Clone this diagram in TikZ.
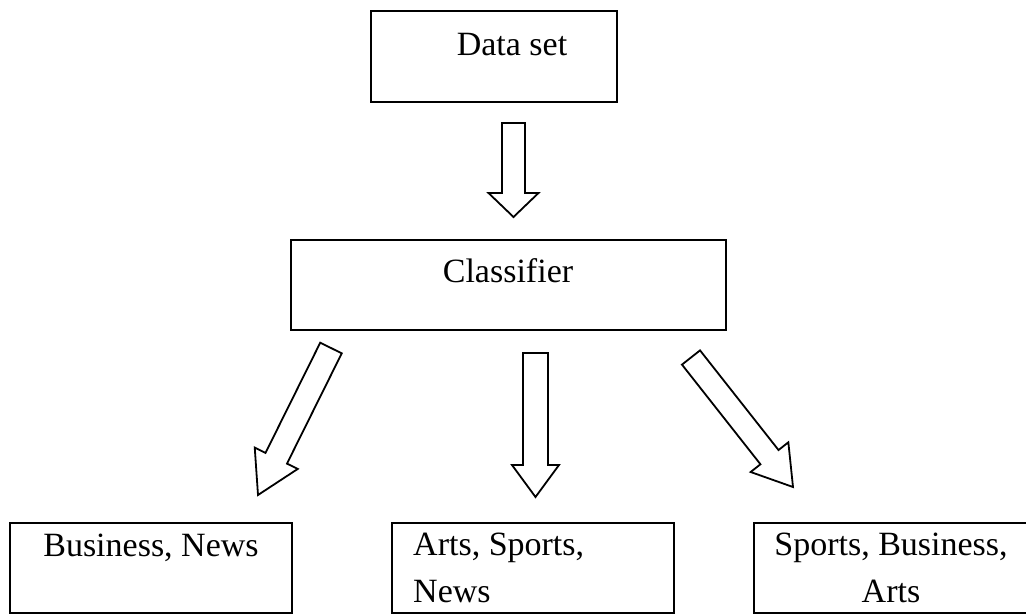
\documentclass[tikz,border=0pt]{standalone}
\usepackage{fontspec}
\setmainfont{Liberation Serif}
\usetikzlibrary{calc}

% hollow block arrow: tail, tip, half shaft width, half head width, head length
\newcommand{\blockarr}[5]{%
  \draw[arrowline] let \p1=($(#2)-(#1)$), \n1={atan2(\y1,\x1)}, \n2={veclen(\x1,\y1)} in
    [shift={(#1)}, rotate=\n1]
    (0pt,-#3pt) -- ({\n2-#5pt},-#3pt) -- ({\n2-#5pt},-#4pt) -- (\n2,0pt)
    -- ({\n2-#5pt},#4pt) -- ({\n2-#5pt},#3pt) -- (0pt,#3pt) -- cycle;}

\tikzset{
  box/.style={draw=black, line width=2pt, inner sep=0pt},
  label/.style={inner sep=0pt, font=\fontsize{34}{47}\selectfont},
  arrowline/.style={draw=black, line width=1.8pt, line join=miter, fill=white}
}

\begin{document}
\begin{tikzpicture}[x=1pt, y=-1pt]
  \useasboundingbox[fill=white] (0,0) rectangle (1026,614);

  % boxes
  \node[box, minimum width=246pt, minimum height=91pt] (data) at (494,56.5) {};
  \node[box, minimum width=435pt, minimum height=90pt] (clf) at (508.5,285) {};
  \node[box, minimum width=282pt, minimum height=90pt] (c1) at (151,567.5) {};
  \node[box, minimum width=282pt, minimum height=90pt] (c2) at (533,567.5) {};
  \node[box, minimum width=282pt, minimum height=90pt] (c3) at (895,567.5) {};

  % texts
  \node[label, anchor=base] (datat) at (512,55) {Data set};
  \node[label, anchor=base] (clft) at (508,282) {Classifier};
  \node[label, anchor=base] (c1t) at (151,556) {Business, News};
  \node[label, anchor=north west, align=left] (c2t) at (413,533) {Arts, Sports,\\News};
  \node[label, anchor=north, align=center] (c3t) at (891,533) {Sports, Business,\\Arts};

  % arrow end points
  \coordinate (a0s) at (513.5,123);
  \coordinate (a0e) at (513.5,217);
  \coordinate (a1s) at (331,348);
  \coordinate (a1e) at (258,495);
  \coordinate (a2s) at (535.5,353);
  \coordinate (a2e) at (535.5,497);
  \coordinate (a3s) at (691,357.5);
  \coordinate (a3e) at (793,487);

  \blockarr{a0s}{a0e}{11.5}{25}{24}
  \blockarr{a1s}{a1e}{12}{24}{41}
  \blockarr{a2s}{a2e}{12.5}{23.5}{32}
  \blockarr{a3s}{a3e}{11.5}{24}{38}
\end{tikzpicture}
\end{document}
